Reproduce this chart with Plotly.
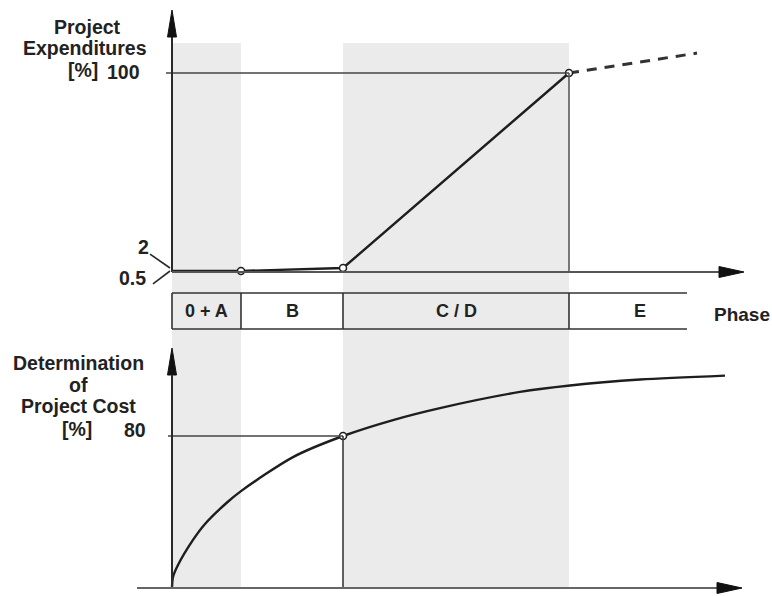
import plotly.graph_objects as go

# ---------------- data ----------------
phases = ["0 + A", "B", "C / D", "E"]
phase_bounds = [0.0, 0.69, 1.71, 3.97, 5.15]      # time units (schematic)
shaded_phases = ["0 + A", "C / D"]

exp_t = [0.0, 0.69, 1.71, 3.97]                   # project expenditures [%]
exp_pct = [0.5, 0.5, 2.0, 100.0]
exp_marker_t = [0.69, 1.71, 3.97]
exp_marker_pct = [0.5, 2.0, 100.0]
forecast_t = [3.97, 5.25]
forecast_pct = [100.0, 110.0]

cost_t = [0.0, 0.01, 0.06, 0.21, 0.33, 0.55, 0.69, 1.21, 1.71,
          2.21, 2.68, 3.48, 3.98, 4.68, 5.53]
cost_pct = [0.0, 5.8, 12.1, 25.3, 33.7, 45.0, 51.0, 68.9, 80.0,
            88.4, 94.7, 103.2, 106.6, 109.7, 111.8]

exp_ref = 100
cost_ref = 80
exp_ref_t = 3.97
cost_ref_t = 1.71

INK = "#1e1e1e"
AX = "#2a2a2a"
REF = "#444444"
BAND = "#ebebeb"
FONT = "Liberation Sans, Arial, sans-serif"
LBL = 19.5

fig = go.Figure()

# expenditure line
fig.add_trace(go.Scatter(x=exp_t, y=exp_pct, mode="lines", yaxis="y",
                         line=dict(color=INK, width=2.4), hoverinfo="skip"))
fig.add_trace(go.Scatter(x=forecast_t, y=forecast_pct, mode="lines", yaxis="y",
                         line=dict(color="#333333", width=3, dash="10px,8px"), hoverinfo="skip"))
fig.add_trace(go.Scatter(x=exp_marker_t, y=exp_marker_pct, mode="markers", yaxis="y",
                         marker=dict(symbol="circle", size=7, color="white",
                                     line=dict(color=INK, width=1.5)), hoverinfo="skip"))
# cost determination curve
fig.add_trace(go.Scatter(x=cost_t, y=cost_pct, mode="lines", yaxis="y2",
                         line=dict(color=INK, width=2.4, shape="spline", smoothing=0.8),
                         hoverinfo="skip"))
fig.add_trace(go.Scatter(x=[cost_ref_t], y=[cost_ref], mode="markers", yaxis="y2",
                         marker=dict(symbol="circle", size=7, color="white",
                                     line=dict(color=INK, width=1.5)), hoverinfo="skip"))

shapes = []
# shaded phase bands (continuous through both panels and table)
for i, p in enumerate(phases):
    if p in shaded_phases:
        shapes.append(dict(type="rect", xref="x", yref="paper",
                           x0=phase_bounds[i], x1=phase_bounds[i + 1],
                           y0=1 - 588 / 596, y1=1 - 43 / 596,
                           fillcolor=BAND, line=dict(width=0), layer="below"))

def seg(x0, y0, x1, y1, yref, color=AX, width=2, dash=None):
    ln = dict(color=color, width=width)
    if dash:
        ln["dash"] = dash
    return dict(type="line", xref="x", yref=yref, x0=x0, y0=y0, x1=x1, y1=y1,
                line=ln, layer="above")

# reference lines
shapes.append(seg(-0.06, exp_ref, exp_ref_t, exp_ref, "y", REF, 1.6))
shapes.append(seg(exp_ref_t, 0, exp_ref_t, exp_ref, "y", "#5a5a5a", 1.6))
shapes.append(seg(-0.04, cost_ref, cost_ref_t, cost_ref, "y2", REF, 1.6))
shapes.append(seg(cost_ref_t, 0, cost_ref_t, cost_ref, "y2", "#3a3a3a", 1.6))

# axes (top panel)
shapes.append(seg(0, 0, 0, 125, "y", AX, 2))
shapes.append(seg(0, 0, 5.5, 0, "y", "#555555", 2))
# axes (bottom panel)
shapes.append(seg(0, 0, 0, 112, "y2", AX, 2))
shapes.append(seg(-0.35, 0, 5.5, 0, "y2", "#666666", 2))

# leader lines for 2 and 0.5
shapes.append(seg(-0.22, 9.0, -0.02, 2.0, "y", AX, 1.6))
shapes.append(seg(-0.19, -6.0, -0.02, 0.5, "y", AX, 1.6))

# arrow heads (pixel-sized, anchored at the axis tips)
def arrow(xa, ya, yref, direction):
    if direction == "up":
        path = "M 0 0 L -4.5 -27 L 4.5 -27 Z"
    else:
        path = "M 0 0 L -25 5.5 L -25 -5.5 Z"
    return dict(type="path", xref="x", yref=yref, xsizemode="pixel", ysizemode="pixel",
                xanchor=xa, yanchor=ya, path=path, fillcolor="#111111",
                line=dict(color="#111111", width=1), layer="above")

shapes.append(arrow(0, (272 - 10) / 1.99, "y", "up"))
shapes.append(arrow(5.72, 0, "y", "right"))
shapes.append(arrow(0, (588 - 348) / 1.9, "y2", "up"))
shapes.append(arrow(5.70, 0, "y2", "right"))

# phase table
shapes.append(seg(phase_bounds[0], 1, phase_bounds[-1], 1, "y3", "#333333", 1.6))
shapes.append(seg(phase_bounds[0], 0, phase_bounds[-1], 0, "y3", "#333333", 1.6))
for b in phase_bounds[:-1]:
    shapes.append(seg(b, 0, b, 1, "y3", "#333333", 1.6))

annotations = []

def txt(x, y, yref, s, size=LBL, xanchor="center", xshift=0):
    return dict(x=x, y=y, xref="x", yref=yref, text=s, showarrow=False,
                xanchor=xanchor, yanchor="middle", xshift=xshift,
                font=dict(family=FONT, size=size, color="#222222"))

# phase labels
for i, p in enumerate(phases):
    c = (phase_bounds[i] + phase_bounds[i + 1]) / 2
    annotations.append(txt(c, 0.5, "y3", "<b>%s</b>" % p, 18,
                           xshift=12 if i == len(phases) - 1 else 0))
annotations.append(txt(5.70, 0.39, "y3", "<b>Phase</b>", 19))

# top panel labels
annotations.append(txt(-0.85, 123.1, "y", "<b>Project</b>"))
annotations.append(txt(-0.87, 112.6, "y", "<b>Expenditures</b>"))
annotations.append(txt(-0.89, 101.5, "y", "<b>[%]</b>"))
annotations.append(txt(-0.49, 100.5, "y", "<b>100</b>"))
annotations.append(txt(-0.29, 12.6, "y", "<b>2</b>"))
annotations.append(txt(-0.40, -3.0, "y", "<b>0.5</b>"))

# bottom panel labels
annotations.append(txt(-0.94, 118.4, "y2", "<b>Determination</b>"))
annotations.append(txt(-0.94, 106.8, "y2", "<b>of</b>"))
annotations.append(txt(-0.94, 95.8, "y2", "<b>Project Cost</b>"))
annotations.append(txt(-0.95, 83.7, "y2", "<b>[%]</b>"))
annotations.append(txt(-0.37, 83.2, "y2", "<b>80</b>"))

hidden = dict(visible=False, showgrid=False, zeroline=False, fixedrange=True)

fig.update_layout(
    width=772, height=596,
    margin=dict(l=0, r=0, t=0, b=0),
    paper_bgcolor="white", plot_bgcolor="white",
    showlegend=False,
    xaxis=dict(range=[-1.72, 6.0], domain=[0, 1], **hidden),
    yaxis=dict(range=[-(596 - 272) / 1.99, 272 / 1.99], domain=[0, 1], **hidden),
    yaxis2=dict(range=[-(596 - 588) / 1.9, 588 / 1.9], overlaying="y", **hidden),
    yaxis3=dict(range=[-(596 - 329) / 36, 1 + 293 / 36], overlaying="y", **hidden),
    shapes=shapes,
    annotations=annotations,
)

fig.write_html("out.html", config={"displayModeBar": False},
               post_script="document.body.style.margin='0';document.body.style.overflow='hidden';")
